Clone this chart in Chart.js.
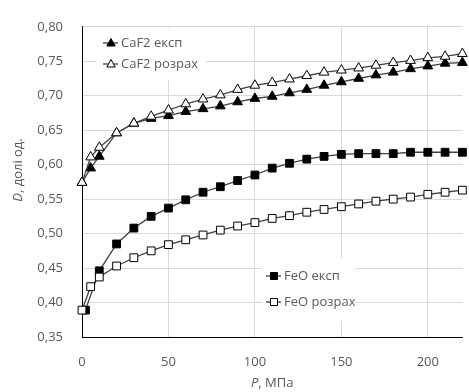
<!DOCTYPE html>
<html>
<head>
<meta charset="utf-8">
<script src="https://cdn.jsdelivr.net/npm/chart.js@4/dist/chart.umd.min.js"></script>
<style>
  html, body { margin: 0; padding: 0; background: #fff; }
  #wrap { width: 469px; height: 392px; position: relative; }
</style>
</head>
<body>
<div id="wrap"><canvas id="chart"></canvas></div>
<script>
// P, MPa
var pressureCalc = [0, 5, 10, 20, 30, 40, 50, 60, 70, 80, 90, 100, 110, 120, 130, 140, 150, 160, 170, 180, 190, 200, 210, 220];
var pressureFeoExp = [2, 10, 20, 30, 40, 50, 60, 70, 80, 90, 100, 110, 120, 130, 140, 150, 160, 170, 180, 190, 200, 210, 220];

// D, fraction
var caf2Exp = [0.574, 0.595, 0.612, 0.646, 0.660, 0.667, 0.671, 0.677, 0.681, 0.685, 0.691, 0.696, 0.699, 0.704, 0.709, 0.715, 0.720, 0.725, 0.730, 0.734, 0.739, 0.743, 0.747, 0.748];
var caf2Calc = [0.574, 0.611, 0.625, 0.646, 0.660, 0.670, 0.679, 0.688, 0.695, 0.701, 0.709, 0.715, 0.719, 0.724, 0.729, 0.734, 0.737, 0.740, 0.744, 0.748, 0.751, 0.755, 0.757, 0.761];
var feoExp = [0.389, 0.446, 0.485, 0.508, 0.525, 0.537, 0.549, 0.560, 0.568, 0.577, 0.585, 0.595, 0.602, 0.608, 0.612, 0.615, 0.616, 0.616, 0.616, 0.618, 0.618, 0.618, 0.618];
var feoCalc = [0.389, 0.423, 0.437, 0.453, 0.465, 0.475, 0.484, 0.491, 0.498, 0.505, 0.511, 0.516, 0.522, 0.526, 0.531, 0.535, 0.539, 0.543, 0.547, 0.550, 0.553, 0.557, 0.560, 0.563];

var seriesNames = ['CaF2 експ', 'CaF2 розрах', 'FeO експ', 'FeO розрах'];

var FONT = '"Open Sans", "Noto Sans", sans-serif';
var TEXT = '#595959';
var LINE = '#404040';

function pts(xs, ys) {
    return xs.map(function (x, i) { return { x: x, y: ys[i] }; });
}

function series(label, data, style, filled, order) {
    return {
        label: label,
        data: data,
        showLine: true,
        clip: false,
        borderColor: LINE,
        borderWidth: 1.3,
        pointStyle: style,
        pointRadius: style === 'rect' ? 5.5 : 5.6,
        pointBorderWidth: 1,
        pointBorderColor: '#000',
        pointBackgroundColor: filled ? '#000' : '#fff',
        order: order
    };
}

function drawMarker(ctx, style, filled, x, y) {
    ctx.save();
    ctx.fillStyle = filled ? '#000' : '#fff';
    ctx.strokeStyle = '#000';
    ctx.lineWidth = 1;
    ctx.beginPath();
    if (style === 'rect') {
        ctx.rect(x - 3.5, y - 3.5, 7, 7);
    } else {
        ctx.moveTo(x, y - 4.5);
        ctx.lineTo(x + 4.2, y + 3);
        ctx.lineTo(x - 4.2, y + 3);
        ctx.closePath();
    }
    ctx.fill();
    ctx.stroke();
    ctx.restore();
}

// two Excel-style legends inside the plot and the axis titles with italic letters
var extras = {
    id: 'extras',
    afterDraw: function (chart) {
        var ctx = chart.ctx;
        var a = chart.chartArea;
        var legends = [
            { box: [96, 28, 110, 52], x: 103, rows: [[43, 0, 'triangle', true], [64, 1, 'triangle', false]] },
            { box: [262, 258, 93, 63], x: 266, rows: [[276, 2, 'rect', true], [302, 3, 'rect', false]] }
        ];
        legends.forEach(function (lg) {
            ctx.fillStyle = '#fff';
            ctx.fillRect(lg.box[0], lg.box[1], lg.box[2], lg.box[3]);
            lg.rows.forEach(function (r) {
                ctx.strokeStyle = LINE;
                ctx.lineWidth = 1.3;
                ctx.beginPath();
                ctx.moveTo(lg.x, r[0]);
                ctx.lineTo(lg.x + 15, r[0]);
                ctx.stroke();
                drawMarker(ctx, r[2], r[3], lg.x + 8, r[0]);
                ctx.fillStyle = TEXT;
                ctx.font = '13px ' + FONT;
                ctx.textAlign = 'left';
                ctx.textBaseline = 'middle';
                ctx.fillText(seriesNames[r[1]], lg.x + 18, r[0]);
            });
        });

        function mixed(italic, rest, cx, cy, rot) {
            ctx.save();
            ctx.translate(cx, cy);
            ctx.rotate(rot);
            ctx.fillStyle = TEXT;
            ctx.textBaseline = 'middle';
            ctx.textAlign = 'left';
            ctx.font = 'italic 13px ' + FONT;
            var w1 = ctx.measureText(italic).width;
            ctx.font = '13px ' + FONT;
            var w2 = ctx.measureText(rest).width;
            var sx = -(w1 + w2) / 2;
            ctx.font = 'italic 13px ' + FONT;
            ctx.fillText(italic, sx, 0);
            ctx.font = '13px ' + FONT;
            ctx.fillText(rest, sx + w1, 0);
            ctx.restore();
        }
        mixed('P', ', МПа', (a.left + a.right) / 2, 383, 0);
        mixed('D', ', долі од.', 18, 170, -Math.PI / 2);
    }
};

new Chart(document.getElementById('chart'), {
    type: 'scatter',
    data: {
        datasets: [
            series(seriesNames[0], pts(pressureCalc, caf2Exp), 'triangle', true, 2),
            series(seriesNames[1], pts(pressureCalc, caf2Calc), 'triangle', false, 1),
            series(seriesNames[2], pts(pressureFeoExp, feoExp), 'rect', true, 2),
            series(seriesNames[3], pts(pressureCalc, feoCalc), 'rect', false, 1)
        ]
    },
    options: {
        responsive: true,
        maintainAspectRatio: false,
        animation: false,
        layout: { padding: { top: 17, right: 4, left: 0, bottom: 0 } },
        plugins: { legend: { display: false }, tooltip: { enabled: false } },
        scales: {
            x: {
                type: 'linear',
                min: 0,
                max: 220,
                afterFit: function (s) { s.height = 55; },
                ticks: { stepSize: 50, includeBounds: false, padding: 17, color: TEXT, font: { family: FONT, size: 13 } },
                grid: { color: '#d9d9d9', drawTicks: false },
                border: { color: '#000', width: 1 }
            },
            y: {
                min: 0.35,
                max: 0.80,
                afterFit: function (s) { s.width = 82; },
                ticks: {
                    stepSize: 0.05,
                    padding: 19,
                    color: TEXT,
                    font: { family: FONT, size: 13 },
                    callback: function (v) { return v.toFixed(2).replace('.', ','); }
                },
                grid: { color: '#d9d9d9', drawTicks: false },
                border: { color: '#000', width: 1 }
            }
        }
    },
    plugins: [extras]
});
</script>
</body>
</html>
